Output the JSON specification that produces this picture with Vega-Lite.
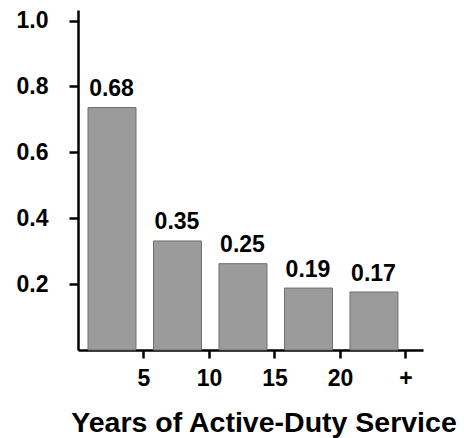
{
  "$schema": "https://vega.github.io/schema/vega-lite/v6.json",
  "width": 345,
  "height": 340,
  "autosize": {"type": "none"},
  "padding": {"left": 78, "top": 10, "right": 41, "bottom": 88},
  "background": "white",
  "config": {"view": {"stroke": null}, "font": "Liberation Sans"},
  "data": {
    "values": [
      {"start": 0, "end": 5, "value": 0.736, "label": "0.68"},
      {"start": 5, "end": 10, "value": 0.331, "label": "0.35"},
      {"start": 10, "end": 15, "value": 0.262, "label": "0.25"},
      {"start": 15, "end": 20, "value": 0.188, "label": "0.19"},
      {"start": 20, "end": 25, "value": 0.176, "label": "0.17"}
    ]
  },
  "layer": [
    {
      "mark": {"type": "bar", "orient": "vertical", "fill": "#9b9b9b", "stroke": "#707070", "strokeWidth": 1, "xOffset": 10, "x2Offset": -7.5},
      "encoding": {
        "x": {
          "field": "start", "type": "quantitative",
          "scale": {"domain": [0, 26.34], "nice": false, "zero": false, "padding": 0},
          "axis": {
            "values": [5, 10, 15, 20, 25],
            "labelExpr": "datum.value == 25 ? '+' : datum.label",
            "grid": false,
            "domainColor": "black", "domainWidth": 2.5,
            "tickColor": "black", "tickWidth": 2.5, "tickSize": 8,
            "labelFont": "Liberation Sans", "labelFontWeight": "bold", "labelFontSize": 23, "labelColor": "black",
            "labelPadding": 9, "labelFlush": false, "labelOverlap": false,
            "title": "Years of Active-Duty Service",
            "titleFont": "Liberation Sans", "titleFontWeight": "bold", "titleFontSize": 28.5, "titleColor": "black",
            "titleX": 185.5, "titleY": 81.5, "titleAlign": "center", "titleBaseline": "alphabetic"
          }
        },
        "x2": {"field": "end"},
        "y": {
          "field": "value", "type": "quantitative",
          "scale": {"domain": [0, 1.032], "nice": false, "padding": 0},
          "axis": {
            "values": [0.2, 0.4, 0.6, 0.8, 1.0],
            "format": ".1f",
            "grid": false,
            "domainColor": "black", "domainWidth": 2.5,
            "tickColor": "black", "tickWidth": 2.5, "tickSize": 9,
            "labelFont": "Liberation Sans", "labelFontWeight": "bold", "labelFontSize": 23, "labelColor": "black",
            "labelPadding": 21,
            "title": null
          }
        },
        "y2": {"datum": 0}
      }
    },
    {
      "mark": {"type": "text", "font": "Liberation Sans", "fontWeight": "bold", "fontSize": 23, "color": "black", "dx": 33.5, "dy": -11.5, "baseline": "alphabetic", "align": "center"},
      "encoding": {
        "x": {"field": "start", "type": "quantitative"},
        "y": {"field": "value", "type": "quantitative"},
        "text": {"field": "label"}
      }
    }
  ]
}
